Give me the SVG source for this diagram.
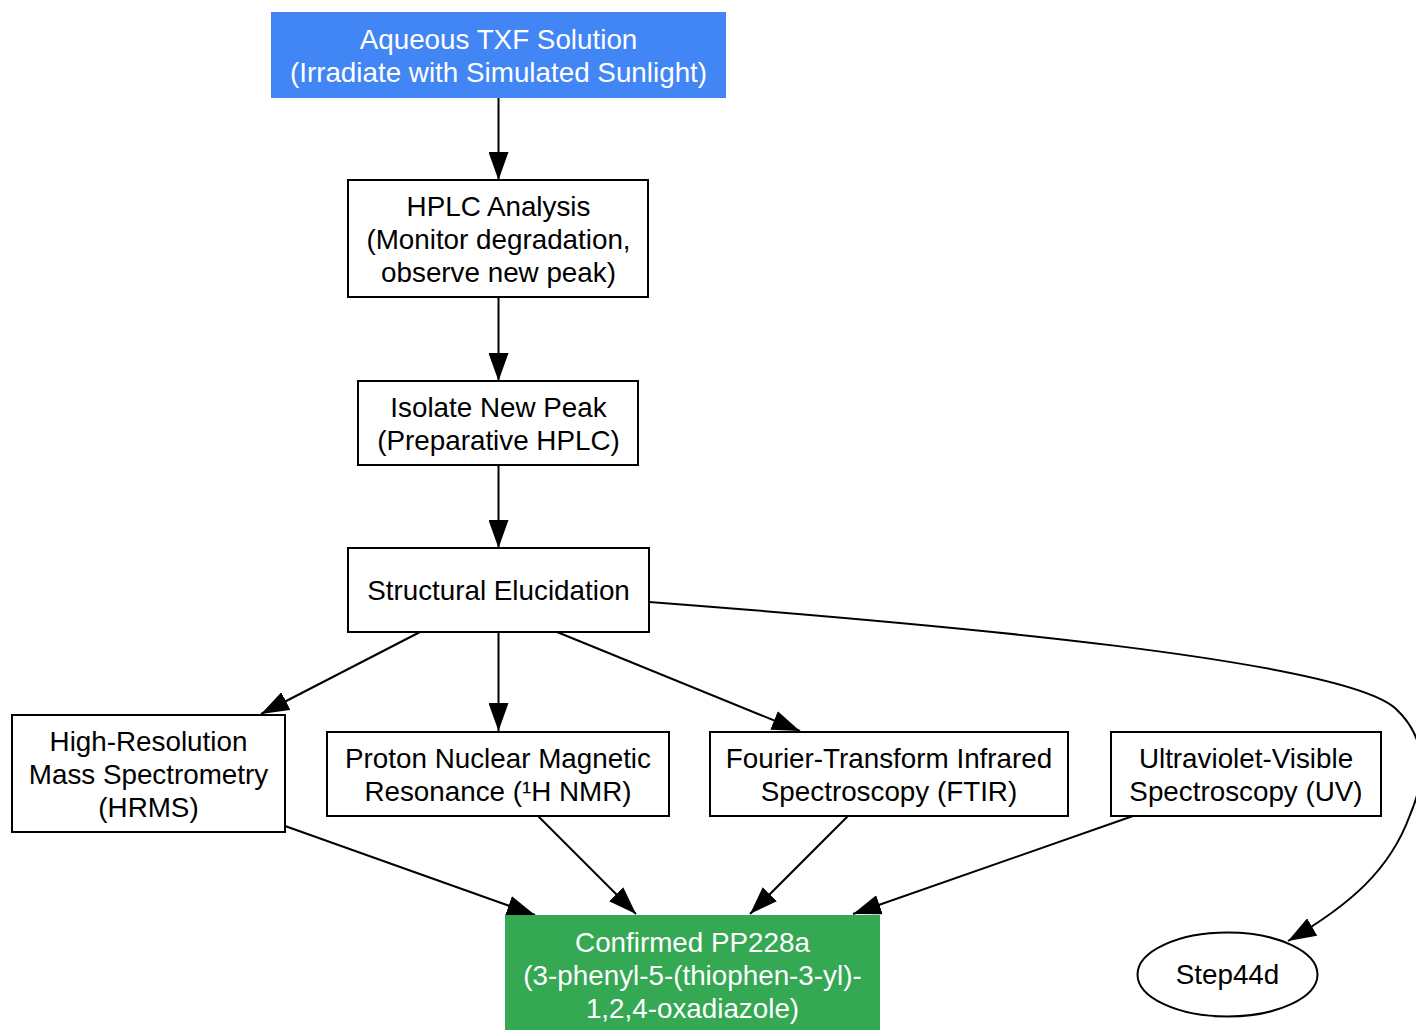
<svg xmlns="http://www.w3.org/2000/svg" width="1416" height="1030" viewBox="0 0 1416 1030">
<style>
text{font-family:"Liberation Sans",Arial,sans-serif;font-size:27.8px;text-anchor:middle;fill:#000}
.w{fill:#fff}
.box{fill:#fff;stroke:#000;stroke-width:2}
.e{fill:none;stroke:#000;stroke-width:2}
</style>
<defs>
<marker id="ah" viewBox="0 0 28 20" refX="28" refY="10" markerWidth="28" markerHeight="20" markerUnits="userSpaceOnUse" orient="auto">
<path d="M0,0 L28,10 L0,20 z" fill="#000"/>
</marker>
</defs>
<rect width="1416" height="1030" fill="#fff"/>
<g id="edges">
<line class="e" x1="498.5" y1="98" x2="498.5" y2="180" marker-end="url(#ah)"/>
<line class="e" x1="498.5" y1="297" x2="498.5" y2="381" marker-end="url(#ah)"/>
<line class="e" x1="498.5" y1="465" x2="498.5" y2="548" marker-end="url(#ah)"/>
<line class="e" x1="420" y1="632" x2="261" y2="714" marker-end="url(#ah)"/>
<line class="e" x1="498.5" y1="632" x2="498.5" y2="731" marker-end="url(#ah)"/>
<line class="e" x1="557" y1="632" x2="800" y2="731" marker-end="url(#ah)"/>
<path class="e" d="M649,602 C950,625 1340,660 1395,708 C1430,740 1425,780 1410,815 C1390,870 1350,905 1288,941" marker-end="url(#ah)"/>
<line class="e" x1="285" y1="826" x2="535" y2="915" marker-end="url(#ah)"/>
<line class="e" x1="538" y1="816" x2="636" y2="914" marker-end="url(#ah)"/>
<line class="e" x1="848" y1="816" x2="750" y2="914" marker-end="url(#ah)"/>
<line class="e" x1="1133" y1="816" x2="853" y2="914" marker-end="url(#ah)"/>
</g>
<g id="n_start">
<rect x="271" y="12" width="455" height="86" fill="#4285F4"/>
<text class="w" x="498.5" y="48.5">Aqueous TXF Solution</text>
<text class="w" x="498.5" y="81.5">(Irradiate with Simulated Sunlight)</text>
</g>
<g id="n_hplc">
<rect class="box" x="348" y="180" width="300" height="117"/>
<text x="498.5" y="216">HPLC Analysis</text>
<text x="498.5" y="249">(Monitor degradation,</text>
<text x="498.5" y="282">observe new peak)</text>
</g>
<g id="n_isolate">
<rect class="box" x="358" y="381" width="280" height="84"/>
<text x="498.5" y="417">Isolate New Peak</text>
<text x="498.5" y="450">(Preparative HPLC)</text>
</g>
<g id="n_struct">
<rect class="box" x="348" y="548" width="301" height="84"/>
<text x="498.5" y="600">Structural Elucidation</text>
</g>
<g id="n_hrms">
<rect class="box" x="12" y="715" width="273" height="117"/>
<text x="148.5" y="751">High-Resolution</text>
<text x="148.5" y="784">Mass Spectrometry</text>
<text x="148.5" y="817">(HRMS)</text>
</g>
<g id="n_nmr">
<rect class="box" x="327" y="732" width="342" height="84"/>
<text x="498" y="768">Proton Nuclear Magnetic</text>
<text x="498" y="801">Resonance (¹H NMR)</text>
</g>
<g id="n_ftir">
<rect class="box" x="710" y="732" width="358" height="84"/>
<text x="889" y="768">Fourier-Transform Infrared</text>
<text x="889" y="801">Spectroscopy (FTIR)</text>
</g>
<g id="n_uv">
<rect class="box" x="1111" y="732" width="270" height="84"/>
<text x="1246" y="768">Ultraviolet-Visible</text>
<text x="1246" y="801">Spectroscopy (UV)</text>
</g>
<g id="n_confirmed">
<rect x="505" y="915" width="375" height="120" fill="#34A853"/>
<text class="w" x="692.5" y="952">Confirmed PP228a</text>
<text class="w" x="692.5" y="985">(3-phenyl-5-(thiophen-3-yl)-</text>
<text class="w" x="692.5" y="1018">1,2,4-oxadiazole)</text>
</g>
<g id="n_step44d">
<ellipse class="box" cx="1227.5" cy="974.5" rx="90" ry="42"/>
<text x="1227.5" y="984">Step44d</text>
</g>
</svg>
